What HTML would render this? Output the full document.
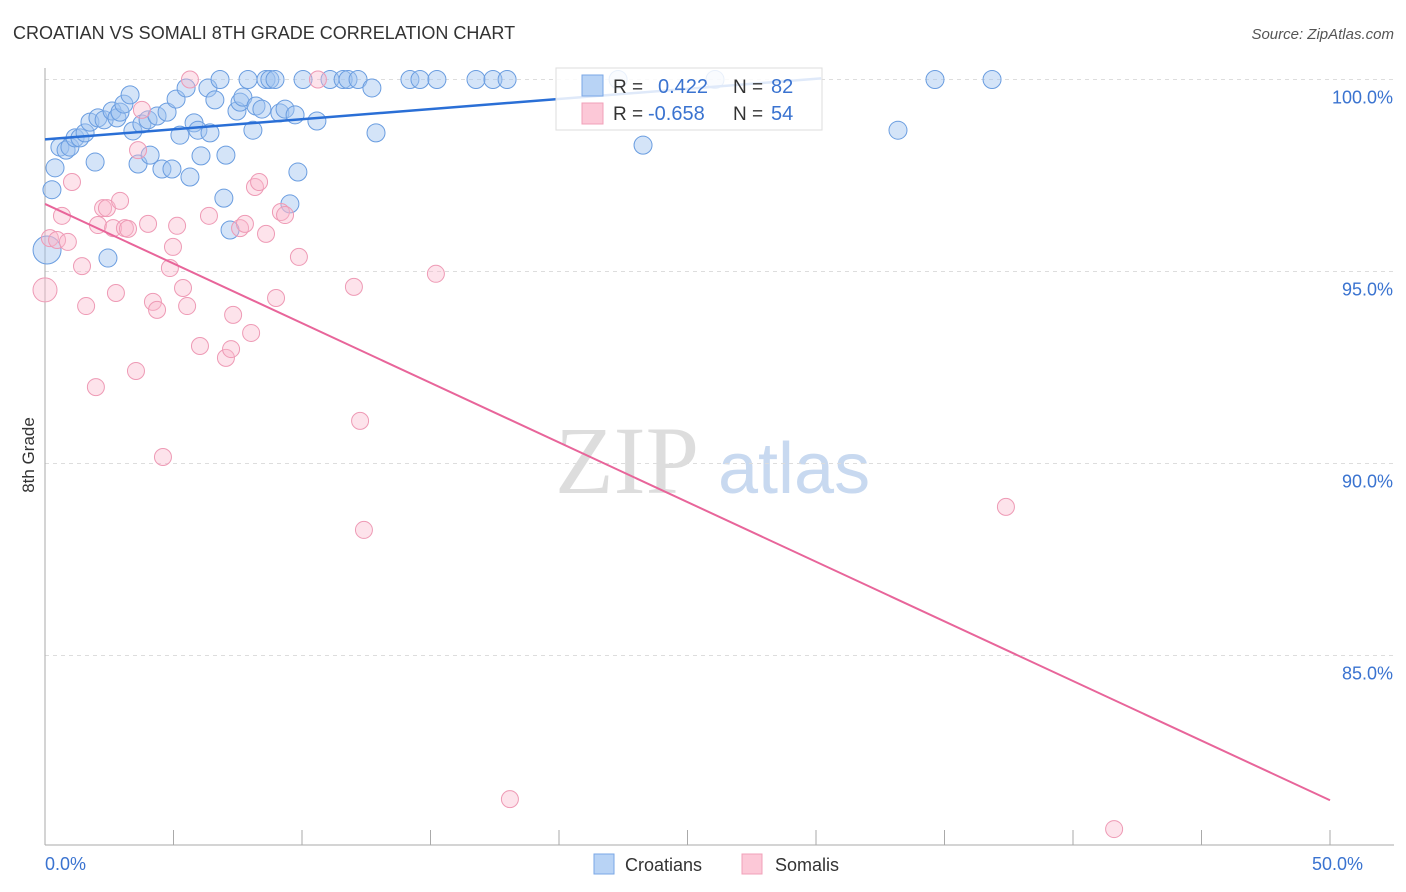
<!DOCTYPE html>
<html><head><meta charset="utf-8"><style>
body{margin:0;background:#fff;font-family:"Liberation Sans",sans-serif;}
svg{display:block}
</style></head><body>
<svg id="chart" width="1406" height="892" xmlns="http://www.w3.org/2000/svg">
<text x="13" y="39" font-size="18" fill="#333">CROATIAN VS SOMALI 8TH GRADE CORRELATION CHART</text>
<text x="1394" y="39" font-size="15" fill="#555" font-style="italic" text-anchor="end">Source: ZipAtlas.com</text>
<text x="555" y="493" font-size="96" fill="#ddd" font-family="Liberation Serif,serif">ZIP</text>
<text x="718" y="493" font-size="72" fill="#c8d9f0">atlas</text>
<g id="grid"></g><g id="axes"></g><g id="pts"></g><g id="lines"></g>
<text transform="translate(34,455) rotate(-90)" font-size="17" fill="#333" text-anchor="middle">8th Grade</text>
<g>
<rect x="556" y="68" width="266" height="62" fill="#fff" fill-opacity="0.85" stroke="#ddd"/>
<rect x="582" y="75" width="21" height="21" fill="#b8d3f5" stroke="#7aa7e6"/>
<rect x="582" y="103" width="21" height="21" fill="#fcc8d7" stroke="#f1a0b8"/>
<text x="613" y="93" font-size="19" fill="#333">R =</text><text x="658" y="93" font-size="20" fill="#3a73d0">0.422</text>
<text x="733" y="93" font-size="19" fill="#333">N =</text><text x="771" y="93" font-size="20" fill="#3a73d0">82</text>
<text x="613" y="120" font-size="19" fill="#333">R =</text><text x="648" y="120" font-size="20" fill="#3a73d0">-0.658</text>
<text x="733" y="120" font-size="19" fill="#333">N =</text><text x="771" y="120" font-size="20" fill="#3a73d0">54</text>
</g>
<g>
<rect x="594" y="854" width="20" height="20" fill="#b8d3f5" stroke="#7aa7e6"/>
<text x="625" y="871" font-size="18" fill="#333">Croatians</text>
<rect x="742" y="854" width="20" height="20" fill="#fcc8d7" stroke="#f1a0b8"/>
<text x="775" y="871" font-size="18" fill="#333">Somalis</text>
</g>
</svg>
<script>
const yTicks=[100,95,90,85];
const yTickLabels=["100.0%","95.0%","90.0%","85.0%"];
const xEndLabels=["0.0%","50.0%"];
const croX=[0.08,0.27,0.39,0.58,0.82,0.97,1.17,1.36,1.56,1.75,1.95,2.06,2.30,2.45,2.61,2.80,2.92,3.07,3.31,3.42,3.62,3.77,4.01,4.09,4.36,4.55,4.75,4.94,5.10,5.25,5.49,5.64,5.80,5.95,6.07,6.34,6.42,6.61,6.81,6.96,7.04,7.20,7.47,7.59,7.70,7.90,8.09,8.21,8.44,8.60,8.75,8.95,9.14,9.34,9.53,9.73,9.84,10.04,10.58,11.09,11.60,11.79,12.18,12.72,12.88,14.20,14.59,15.25,16.77,17.43,17.98,22.30,23.27,26.07,33.19,34.63,36.85];
const croY=[95.56,97.13,97.70,98.24,98.16,98.24,98.48,98.48,98.61,98.89,97.85,99.00,98.95,95.35,99.18,99.00,99.15,99.36,99.60,98.66,97.80,98.84,98.95,98.03,99.05,97.67,99.15,97.67,99.49,98.55,99.78,97.46,98.87,98.68,98.01,99.78,98.61,99.47,100,96.91,98.03,96.08,99.18,99.41,99.54,100,98.68,99.31,99.23,100,100,100,99.13,99.23,96.76,99.08,97.59,100,98.92,100,100,100,100,99.78,98.61,100,100,100,100,100,100,100,98.29,100,98.68,100,100];
const somX=[0,0.19,0.47,0.66,0.89,1.05,1.44,1.60,1.98,2.06,2.26,2.41,2.65,2.76,2.92,3.11,3.23,3.54,3.62,3.77,4.01,4.20,4.36,4.59,4.86,4.98,5.14,5.37,5.53,5.64,6.03,6.38,7.04,7.24,7.32,7.59,7.78,8.02,8.17,8.33,8.60,8.99,9.18,9.34,9.88,10.62,12.02,12.26,12.41,15.21,18.09,37.39,41.60];
const somY=[94.52,95.87,95.82,96.45,95.77,97.33,95.14,94.10,91.99,96.21,96.65,96.65,96.13,94.44,96.84,96.13,96.11,92.41,98.16,99.21,96.24,94.21,94.00,90.17,95.09,95.64,96.19,94.57,94.10,100,93.06,96.45,92.75,92.98,93.87,96.13,96.24,93.40,97.20,97.33,95.98,94.31,96.55,96.47,95.38,100,94.60,91.11,88.27,94.94,81.26,88.87,80.48];
const croTrend=[[0,98.44],[30.2,100.03]];
const somTrend=[[0,96.76],[50,81.23]];

const NS="http://www.w3.org/2000/svg";
const X=v=>45+v*25.7;
const Y=v=>79.5+(100-v)*38.4;
function mk(t,a,p){const e=document.createElementNS(NS,t);for(const k in a)e.setAttribute(k,a[k]);document.getElementById(p).appendChild(e);return e;}
yTicks.forEach((t,i)=>{
 const l=mk('line',{x1:45,x2:1394,y1:Y(t),y2:Y(t),stroke:'#ddd','stroke-dasharray':'4,4'},'grid');
 
 
 const tx=mk('text',{x:1393,y:Y(t)+24,'font-size':18,fill:'#3a73d0','text-anchor':'end'},'grid');
 tx.textContent=yTickLabels[i];
 
 
});
const ax=mk('line',{x1:45,x2:45,y1:68,y2:845,stroke:'#aaa'},'axes');


const bx=mk('line',{x1:45,x2:1394,y1:845,y2:845,stroke:'#aaa'},'axes');


for(let i=0;i<=10;i++){
 const t=mk('line',{x1:X(i*5),x2:X(i*5),y1:830,y2:845,stroke:'#aaa'},'axes');
 
 
}
[[0,'start'],[50,'end']].forEach((d,i)=>{
 const t=mk('text',{x:X(d[0])+(i?33:0),y:870,'font-size':18,fill:'#3a73d0','text-anchor':d[1]},'axes');
 t.textContent=xEndLabels[i];
 
 
});
croX.forEach((x,i)=>{
 const r=(i===0)?14:9;
 const c=mk('circle',{cx:X(x),cy:Y(croY[i]),r:r,fill:'rgba(160,195,240,0.45)',stroke:'#6a9de0','stroke-width':1},'pts');
 
 
});
somX.forEach((x,i)=>{
 const r=(i===0)?12:8.5;
 const c=mk('circle',{cx:X(x),cy:Y(somY[i]),r:r,fill:'rgba(250,185,205,0.4)',stroke:'#ee9ab5','stroke-width':1},'pts');
 
 
});
const l1=mk('line',{x1:X(croTrend[0][0]),y1:Y(croTrend[0][1]),x2:X(croTrend[1][0]),y2:Y(croTrend[1][1]),stroke:'#2a6fd6','stroke-width':2.5},'lines');


const l2=mk('line',{x1:X(somTrend[0][0]),y1:Y(somTrend[0][1]),x2:X(somTrend[1][0]),y2:Y(somTrend[1][1]),stroke:'#e8659a','stroke-width':2},'lines');


</script>
</body></html>
